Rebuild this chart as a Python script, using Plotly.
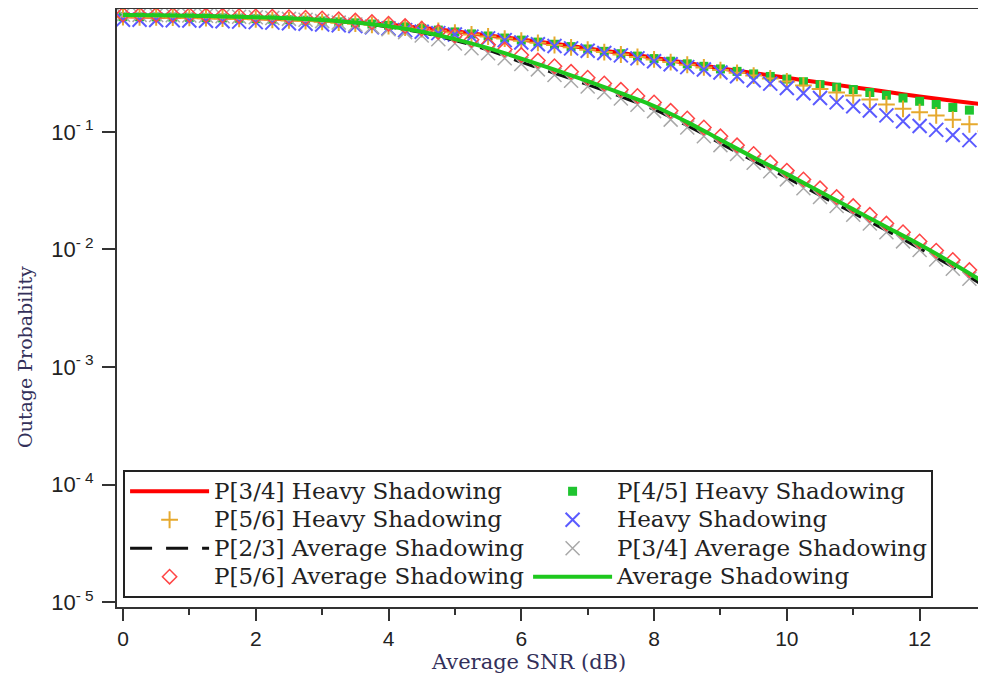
import plotly.graph_objects as go

# SNR grids (dB)
snr_half = [0, 0.5, 1, 1.5, 2, 2.5, 3, 3.5, 4, 4.5, 5, 5.5, 6, 6.5, 7, 7.5, 8, 8.5,
            9, 9.5, 10, 10.5, 11, 11.5, 12, 12.5, 13]
snr_quarter = [0, 0.25, 0.5, 0.75, 1, 1.25, 1.5, 1.75, 2, 2.25, 2.5, 2.75, 3, 3.25,
               3.5, 3.75, 4, 4.25, 4.5, 4.75, 5, 5.25, 5.5, 5.75, 6, 6.25, 6.5, 6.75,
               7, 7.25, 7.5, 7.75, 8, 8.25, 8.5, 8.75, 9, 9.25, 9.5, 9.75, 10, 10.25,
               10.5, 10.75, 11, 11.25, 11.5, 11.75, 12, 12.25, 12.5, 12.75, 13]

# Line series (on snr_half)
p34_heavy = [0.96, 0.955, 0.948, 0.938, 0.925, 0.908, 0.885, 0.855, 0.815, 0.767, 0.716,
             0.661, 0.61, 0.562, 0.513, 0.468, 0.427, 0.385, 0.347, 0.316, 0.288, 0.263,
             0.24, 0.219, 0.2, 0.184, 0.17]
p23_avg = [0.984, 0.979, 0.973, 0.959, 0.944, 0.924, 0.893, 0.846, 0.781, 0.698, 0.598,
           0.497, 0.392, 0.315, 0.252, 0.199, 0.155, 0.113, 0.0798, 0.0565, 0.0407,
           0.0288, 0.0204, 0.0145, 0.0102, 0.00708, 0.00479]
avg_shadow = [0.984, 0.979, 0.973, 0.959, 0.944, 0.925, 0.895, 0.851, 0.791, 0.71, 0.615,
              0.515, 0.42, 0.338, 0.27, 0.213, 0.166, 0.121, 0.0855, 0.0605, 0.0437,
              0.0309, 0.0219, 0.0155, 0.011, 0.00759, 0.00513]

# Marker series (on snr_quarter)
p45_heavy = [0.955, 0.953, 0.95, 0.946, 0.942, 0.937, 0.932, 0.925, 0.918, 0.91, 0.90,
             0.89, 0.877, 0.862, 0.846, 0.827, 0.806, 0.783, 0.759, 0.734, 0.708, 0.681,
             0.654, 0.628, 0.603, 0.58, 0.556, 0.531, 0.507, 0.484, 0.462, 0.441, 0.42,
             0.399, 0.379, 0.361, 0.343, 0.327, 0.311, 0.296, 0.281, 0.267, 0.252, 0.24,
             0.229, 0.216, 0.205, 0.194, 0.182, 0.171, 0.161, 0.153, 0.145]
p56_heavy = [0.945, 0.943, 0.94, 0.936, 0.932, 0.927, 0.921, 0.914, 0.906, 0.897, 0.887,
             0.876, 0.863, 0.848, 0.832, 0.813, 0.793, 0.771, 0.748, 0.724, 0.699, 0.673,
             0.647, 0.621, 0.596, 0.572, 0.548, 0.524, 0.5, 0.477, 0.455, 0.434, 0.413,
             0.392, 0.372, 0.353, 0.335, 0.318, 0.301, 0.285, 0.268, 0.248, 0.231, 0.216,
             0.204, 0.188, 0.171, 0.157, 0.147, 0.138, 0.127, 0.116, 0.101]
heavy_shadow = [0.90, 0.898, 0.895, 0.89, 0.885, 0.88, 0.873, 0.866, 0.858, 0.849, 0.84,
                0.83, 0.82, 0.808, 0.794, 0.776, 0.759, 0.733, 0.711, 0.692, 0.673, 0.646,
                0.624, 0.603, 0.575, 0.556, 0.537, 0.513, 0.49, 0.468, 0.447, 0.422, 0.398,
                0.376, 0.355, 0.339, 0.32, 0.297, 0.275, 0.257, 0.236, 0.213, 0.194, 0.178,
                0.165, 0.152, 0.138, 0.123, 0.112, 0.104, 0.094, 0.085, 0.074]
p34_avg = [0.991, 0.989, 0.986, 0.982, 0.977, 0.971, 0.962, 0.953, 0.942, 0.929, 0.914,
           0.897, 0.875, 0.849, 0.818, 0.785, 0.746, 0.705, 0.661, 0.614, 0.565, 0.515,
           0.467, 0.422, 0.378, 0.34, 0.305, 0.272, 0.243, 0.217, 0.192, 0.17, 0.15,
           0.127, 0.109, 0.0916, 0.0771, 0.0647, 0.0546, 0.0462, 0.0394, 0.0331, 0.0279,
           0.0234, 0.0197, 0.0166, 0.014, 0.0117, 0.00989, 0.00822, 0.00684, 0.00562,
           0.00462]
p56_avg = [0.995, 0.993, 0.991, 0.989, 0.986, 0.982, 0.975, 0.968, 0.962, 0.955, 0.946,
           0.935, 0.923, 0.906, 0.885, 0.859, 0.832, 0.794, 0.755, 0.708, 0.659, 0.607,
           0.552, 0.501, 0.45, 0.404, 0.362, 0.324, 0.289, 0.258, 0.228, 0.202, 0.178,
           0.151, 0.13, 0.109, 0.0916, 0.0769, 0.0649, 0.055, 0.0468, 0.0394, 0.0331,
           0.0279, 0.0234, 0.0197, 0.0166, 0.014, 0.0117, 0.00977, 0.00813, 0.00668,
           0.0055]

y_tickvals = [1e-5, 1e-4, 1e-3, 1e-2, 1e-1]
y_ticktext = ["10<sup>- 5</sup>", "10<sup>- 4</sup>", "10<sup>- 3</sup>",
              "10<sup>- 2</sup>", "10<sup>- 1</sup>"]
x_tickvals = [0, 2, 4, 6, 8, 10, 12]
x_title = "Average SNR (dB)"
y_title = "Outage Probability"


def legend_name(text):
    # slightly larger glyphs than the row pitch of the legend
    return '<span style="font-size:23px">' + text + "</span>"


fig = go.Figure()

fig.add_trace(go.Scatter(x=snr_half, y=p34_heavy, mode="lines", name=legend_name("P[3/4] Heavy Shadowing"),
                         line=dict(color="#ff0000", width=4, shape="spline")))
fig.add_trace(go.Scatter(x=snr_quarter, y=p45_heavy, mode="markers", name=legend_name("P[4/5] Heavy Shadowing"),
                         marker=dict(symbol="square", size=9, color="#1fc430")))
fig.add_trace(go.Scatter(x=snr_quarter, y=p56_heavy, mode="markers", name=legend_name("P[5/6] Heavy Shadowing"),
                         marker=dict(symbol="cross-thin", size=12, color="#e6a92e",
                                     line=dict(color="#e6a92e", width=2))))
fig.add_trace(go.Scatter(x=snr_quarter, y=heavy_shadow, mode="markers", name=legend_name("Heavy Shadowing"),
                         marker=dict(symbol="x-thin", size=14, color="#5b5bff",
                                     line=dict(color="#5b5bff", width=2))))
fig.add_trace(go.Scatter(x=snr_half, y=p23_avg, mode="lines", name=legend_name("P[2/3] Average Shadowing"),
                         line=dict(color="#111111", width=3, dash="22px,14px", shape="spline")))
fig.add_trace(go.Scatter(x=snr_quarter, y=p34_avg, mode="markers", name=legend_name("P[3/4] Average Shadowing"),
                         marker=dict(symbol="x-thin", size=14, color="#a8a8a8",
                                     line=dict(color="#a8a8a8", width=1.5))))
fig.add_trace(go.Scatter(x=snr_quarter, y=p56_avg, mode="markers", name=legend_name("P[5/6] Average Shadowing"),
                         marker=dict(symbol="diamond-open", size=11, color="#ff4545",
                                     line=dict(color="#ff4545", width=1.5))))
fig.add_trace(go.Scatter(x=snr_half, y=avg_shadow, mode="lines", name=legend_name("Average Shadowing"),
                         line=dict(color="#1ec81e", width=4, shape="spline")))

title_color = "#33305a"
tick_font = dict(family="Liberation Sans", size=21, color="#222222")
fig.update_layout(
    width=978, height=673,
    margin=dict(l=109, r=0, t=1, b=74),
    paper_bgcolor="white", plot_bgcolor="white",
    showlegend=True,
    legend=dict(
        orientation="h", x=0.007, y=0.015, xanchor="left", yanchor="bottom",
        bgcolor="white", bordercolor="#222222", borderwidth=2,
        font=dict(family="DejaVu Serif", size=19.6, color="#222222"),
        entrywidth=309, itemwidth=79,
    ),
    xaxis=dict(
        range=[-0.09, 13.0], tickvals=x_tickvals, ticks="outside", ticklen=12, tickwidth=2,
        tickcolor="#333333", showline=True, linewidth=2, linecolor="#333333", mirror=True,
        showgrid=False, zeroline=False,
        minor=dict(dtick=1, ticks="outside", ticklen=6, tickwidth=2, tickcolor="#333333", showgrid=False),
        tickfont=tick_font,
    ),
    yaxis=dict(
        type="log", range=[-5.042, 0.045], tickvals=y_tickvals, ticktext=y_ticktext,
        ticks="outside", ticklen=13, tickwidth=2, tickcolor="#333333",
        showline=True, linewidth=2, linecolor="#333333", showgrid=False, zeroline=False,
        tickfont=dict(family="Liberation Sans", size=22, color="#222222"),
        ticklabelstandoff=4,
    ),
    annotations=[
        dict(text=x_title, xref="paper", yref="paper", x=0.473, y=-0.092,
             xanchor="center", yanchor="middle", showarrow=False,
             font=dict(family="DejaVu Serif", size=21, color=title_color)),
        dict(text=y_title, xref="paper", yref="paper", x=-0.106, y=0.418,
             xanchor="center", yanchor="middle", showarrow=False, textangle=-90,
             font=dict(family="DejaVu Serif", size=19, color=title_color)),
    ],
)

fig.write_html("out.html")
